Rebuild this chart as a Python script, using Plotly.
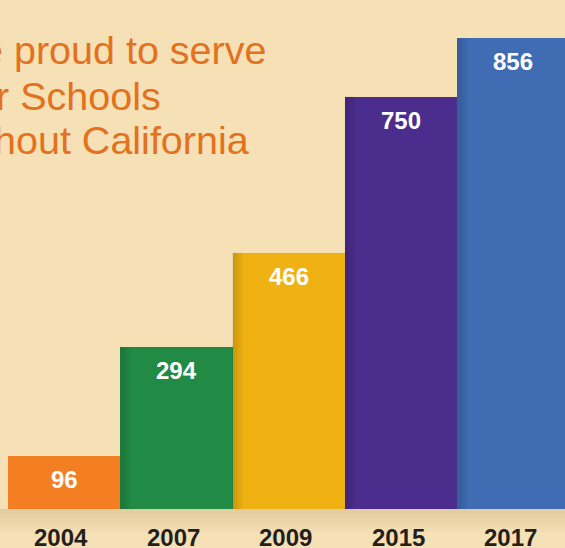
import plotly.graph_objects as go

years = ["2004", "2007", "2009", "2015", "2017"]
schools = [96, 294, 466, 750, 856]
bar_colors = ["#F47E22", "#218B45", "#F0B212", "#4B2D8E", "#406CB4"]
title_lines = ["e proud to serve", "r Schools", "hout California"]

W, H = 565, 548
BG = "#F5E1B5"
TXT = "#E3711E"
FONT = "Liberation Sans, Arial, Helvetica, sans-serif"

# pixel geometry of the plot
bar_px = 112.3
left_px = 8
base_px = 509
ppu = 0.55
x0 = -0.5 - left_px / bar_px
x1 = x0 + W / bar_px
y1 = base_px / ppu
y0 = -(H - base_px) / ppu

fig = go.Figure()
fig.add_trace(go.Bar(
    x=list(range(len(years))), y=schools,
    marker=dict(color=bar_colors, line=dict(width=0)),
    width=1.0, hoverinfo="skip", showlegend=False,
))

shapes = []
# soft shadow band below the baseline
for k in range(12):
    shapes.append(dict(type="rect", xref="paper", yref="paper",
                       x0=0, x1=1,
                       y0=1 - (base_px + k * 2 + 2) / H, y1=1 - (base_px + k * 2) / H,
                       fillcolor="#8A6A3A", opacity=0.17 * (1 - k / 12),
                       line=dict(width=0), layer="below"))
# shading cast on the left side of each bar by its neighbour
for i in range(1, len(schools)):
    for k in range(6):
        shapes.append(dict(type="rect", xref="x", yref="y",
                           x0=i - 0.5 + k * 0.016, x1=i - 0.5 + (k + 1) * 0.016,
                           y0=0, y1=schools[i],
                           fillcolor="#000000", opacity=0.15 * (1 - k / 6),
                           line=dict(width=0), layer="above"))

annotations = []
for i, v in enumerate(schools):
    annotations.append(dict(x=i, y=v, xref="x", yref="y", text=f"<b>{v}</b>",
                            showarrow=False, yanchor="middle", yshift=-23.5,
                            font=dict(family=FONT, size=24, color="white")))
    annotations.append(dict(x=i, y=0, xref="x", yref="y", text=f"<b>{years[i]}</b>",
                            showarrow=False, yanchor="middle", yshift=-28, xshift=-3,
                            font=dict(family=FONT, size=24, color="#231F20")))

line_right = [268, 163, 251]
line_mid = [50, 96, 140]
for t, xr, ym in zip(title_lines, line_right, line_mid):
    annotations.append(dict(x=xr / W, y=1 - ym / H, xref="paper", yref="paper",
                            text=t, showarrow=False, xanchor="right", yanchor="middle",
                            font=dict(family=FONT, size=39.5, color=TXT)))

fig.update_layout(
    width=W, height=H,
    margin=dict(l=0, r=0, t=0, b=0),
    paper_bgcolor=BG, plot_bgcolor=BG,
    bargap=0,
    xaxis=dict(range=[x0, x1], visible=False, fixedrange=True),
    yaxis=dict(range=[y0, y1], visible=False, fixedrange=True),
    shapes=shapes, annotations=annotations,
)
fig.write_html("out.html")
